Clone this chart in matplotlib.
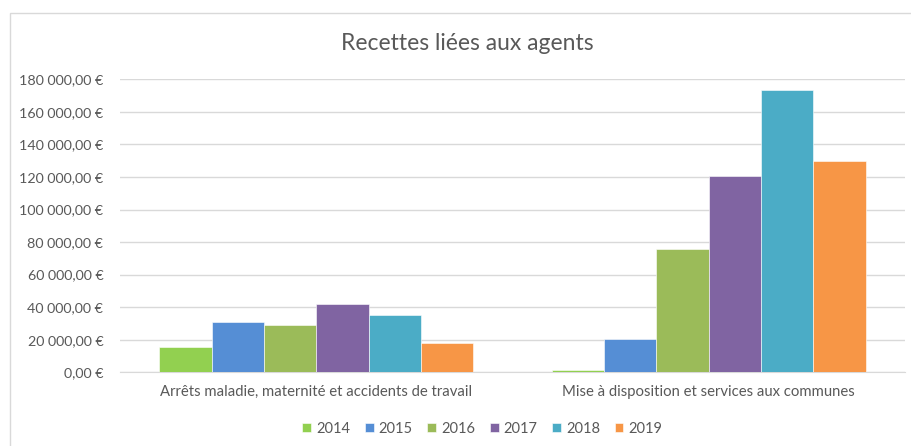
import matplotlib.pyplot as plt
import numpy as np
from matplotlib.patches import Rectangle
from matplotlib.ticker import FuncFormatter

#%% Data
categories = ['Arrêts maladie, maternité et accidents de travail',
              'Mise à disposition et services aux communes']
years = ['2014', '2015', '2016', '2017', '2018', '2019']
v2014 = [15700, 1600]
v2015 = [30900, 20600]
v2016 = [28900, 75600]
v2017 = [42000, 120400]
v2018 = [35000, 173200]
v2019 = [18200, 129600]
series = [v2014, v2015, v2016, v2017, v2018, v2019]
colors = ['#92D050', '#558ED5', '#9BBB59', '#8064A2', '#4BACC6', '#F79646']

txt = '#595959'
plt.rcParams['font.family'] = ['Lato', 'DejaVu Sans']

#%% Figure
fig = plt.figure(figsize=(9.12, 4.46), dpi=100)
fig.patches.append(Rectangle((10 / 912, -0.1), 1.2, 1 - 13 / 446 + 0.1,
                             transform=fig.transFigure, fill=False,
                             edgecolor='#D9D9D9', lw=1))
ax = fig.add_axes([0.1316, 0.1652, 0.8607, 0.6570])

x = np.arange(len(categories))
w = 0.8 / len(series)
for i, (vals, c, y) in enumerate(zip(series, colors, years)):
    ax.bar(x - 0.4 + w * (i + 0.5), vals, width=w, color=c, label=y,
           edgecolor='white', linewidth=0.4, zorder=3)

ax.set_xlim(-0.5, 1.5)
ax.set_ylim(0, 180000)
ax.set_yticks(np.arange(0, 180001, 20000))
ax.yaxis.set_major_formatter(FuncFormatter(
    lambda v, p: '{:,.2f} €'.format(v).replace(',', ' ').replace('.', ',')))
ax.set_xticks(x)
ax.set_xticklabels(categories)
ax.grid(axis='y', color='#D9D9D9', lw=1, zorder=0)
for s in ['top', 'right', 'left']:
    ax.spines[s].set_visible(False)
ax.spines['bottom'].set_color('#D9D9D9')
ax.tick_params(axis='both', length=0, colors=txt)
ax.tick_params(axis='x', pad=9, labelsize=10.7)
ax.tick_params(axis='y', pad=12, labelsize=10.3)

fig.text(0.512, 1 - 43 / 446, 'Recettes liées aux agents', ha='center',
         va='center', fontsize=16.5, color=txt)

fig.legend(loc='center', bbox_to_anchor=(0.529, 1 - 429 / 446), ncol=6,
           frameon=False, fontsize=10.5, handlelength=0.6, handleheight=0.6,
           handletextpad=0.35, columnspacing=1.0, labelcolor=txt)

fig.savefig('out.png', dpi=100, facecolor='white')
